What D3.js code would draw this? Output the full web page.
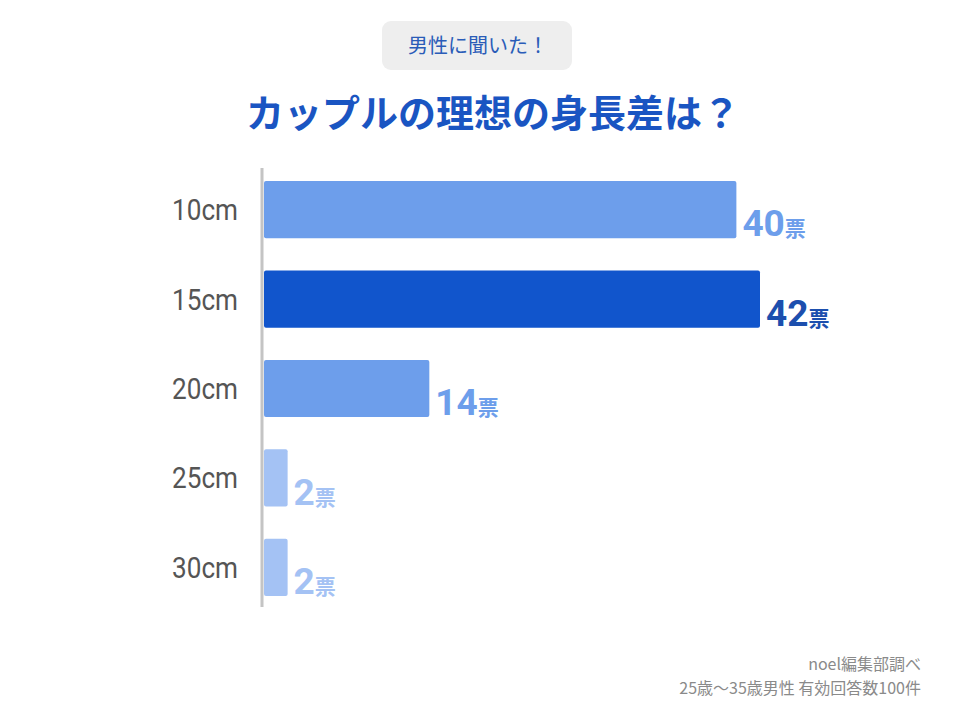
<!DOCTYPE html>
<html><head><meta charset="utf-8">
<script src="https://cdn.jsdelivr.net/npm/d3@7"></script>
<style>body{margin:0;background:#fff}svg{display:block}</style>
</head><body>
<svg id="c" width="960" height="720"></svg>
<script>
const categories = ["10cm","15cm","20cm","25cm","30cm"];
const values = [40,42,14,2,2];
const barColors = ["#6d9eeb","#1155cc","#6d9eeb","#a4c2f4","#a4c2f4"];
const labelColors = ["#6d9eeb","#1c4fae","#6d9eeb","#a4c2f4","#a4c2f4"];
const unit = "票";
const title = "カップルの理想の身長差は？";
const badge = "男性に聞いた！";
const notes = ["noel編集部調べ","25歳～35歳男性 有効回答数100件"];

const svg = d3.select("#c");
const font = "'Noto Sans CJK JP','Noto Sans',sans-serif";

// badge
svg.append("rect").attr("x",382).attr("y",21).attr("width",190).attr("height",49).attr("rx",9).attr("fill","#eeeeee");
svg.append("text").attr("x",478).attr("y",53).attr("text-anchor","middle").attr("font-family",font)
  .attr("font-size",20).attr("fill","#2a5cb8").text(badge);

// title
svg.append("text").attr("x",493).attr("y",127).attr("text-anchor","middle").attr("font-family",font)
  .attr("font-weight","bold").attr("font-size",38).attr("fill","#1a55c2").text(title);

const x = d3.scaleLinear().domain([0,42]).range([264,760]);
const y = d3.scaleBand().domain(categories).range([165,612]).paddingInner(0.36).paddingOuter(0.18);

// bars
svg.selectAll("rect.bar").data(values).join("rect").attr("class","bar")
  .attr("x",x(0)).attr("y",(d,i)=>y(categories[i]))
  .attr("width",d=>x(d)-x(0)).attr("height",y.bandwidth()).attr("rx",2)
  .attr("fill",(d,i)=>barColors[i]);

// axis line
svg.append("line").attr("x1",262).attr("x2",262).attr("y1",168).attr("y2",607)
  .attr("stroke","#c4c4c4").attr("stroke-width",3);

// category labels
const yAxis = d3.axisLeft(y).tickSize(0).tickPadding(0);
const g = svg.append("g").attr("transform","translate(238,0)").call(yAxis);
g.select(".domain").remove();
g.selectAll("text").attr("font-family","Roboto,'Noto Sans',sans-serif").attr("font-size",30)
  .attr("font-weight",400)
  .attr("fill","#555").attr("dy","0.35em").attr("text-anchor","end")
  .attr("textLength",66).attr("lengthAdjust","spacingAndGlyphs");

// value labels
const lab = svg.selectAll("text.val").data(values).join("text").attr("class","val")
  .attr("x",d=>x(d)+6).attr("y",(d,i)=>y(categories[i])+y.bandwidth()-2)
  .attr("font-weight","bold").attr("fill",(d,i)=>labelColors[i]);
lab.append("tspan").attr("font-family","Roboto,sans-serif").attr("font-size",37).text(d=>d);
lab.append("tspan").attr("font-family",font).attr("font-size",21).text(unit);

// notes
svg.selectAll("text.note").data(notes).join("text").attr("class","note")
  .attr("x",921).attr("y",(d,i)=>670+i*24).attr("text-anchor","end")
  .attr("font-family",font).attr("font-size",16).attr("fill","#8a8a8a").text(d=>d);
</script>
</body></html>
